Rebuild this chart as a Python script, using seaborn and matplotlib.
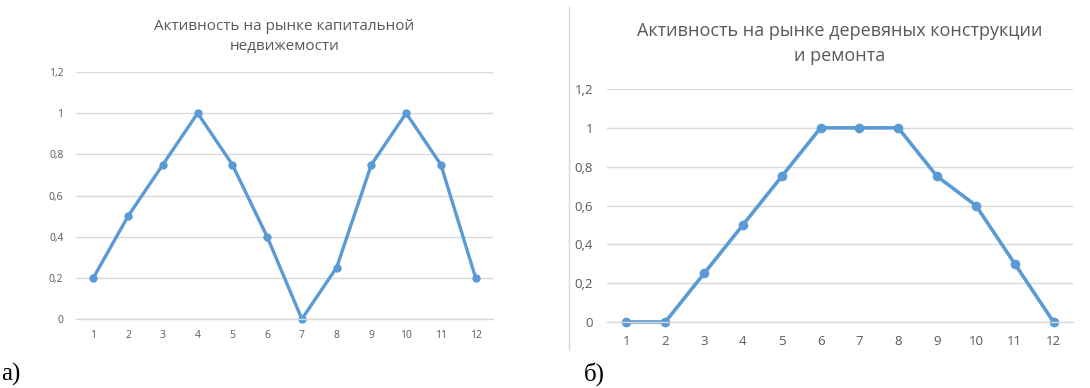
import matplotlib
matplotlib.use("Agg")
import matplotlib.pyplot as plt
import seaborn as sns
import pandas as pd

# Data
months = [1, 2, 3, 4, 5, 6, 7, 8, 9, 10, 11, 12]
capital_activity = [0.2, 0.5, 0.75, 1.0, 0.75, 0.4, 0.0, 0.25, 0.75, 1.0, 0.75, 0.2]
wood_activity = [0.0, 0.0, 0.25, 0.5, 0.75, 1.0, 1.0, 1.0, 0.75, 0.6, 0.3, 0.0]
yticks = [0, 0.2, 0.4, 0.6, 0.8, 1.0, 1.2]
ytick_labels = ["0", "0,2", "0,4", "0,6", "0,8", "1", "1,2"]
title_a = "Активность на рынке капитальной\nнедвижемости"
title_b = "Активность на рынке деревяных конструкции\nи ремонта"
label_a = "а)"
label_b = "б)"

sns.set_theme(style="white")
plt.rcParams['font.family'] = ['Open Sans', 'DejaVu Sans']

LINE = "#5B9BD5"
GRID = "#D9D9D9"
TXT = "#595959"

fig = plt.figure(figsize=(10.9, 3.88), dpi=100)
ax1 = fig.add_axes([0.0697, 0.1778, 0.3826, 0.6366])
ax2 = fig.add_axes([0.5569, 0.1701, 0.4275, 0.6005])

def style(ax, df, ycol, title, tsize, lsize, xpad, ypad, ms, lw, tpad, ls):
    sns.lineplot(data=df, x="month", y=ycol, ax=ax, color=LINE, linewidth=lw,
                 marker="o", markersize=ms, markeredgewidth=0, clip_on=False)
    ax.set_xlim(0.5, 12.5)
    ax.set_ylim(0, 1.2)
    ax.set_xticks(months)
    ax.set_xticklabels([str(m) for m in months])
    ax.set_yticks(yticks)
    ax.set_yticklabels(ytick_labels)
    ax.tick_params(axis="both", length=0, labelcolor=TXT, labelsize=lsize)
    ax.tick_params(axis="x", pad=xpad)
    ax.tick_params(axis="y", pad=ypad)
    ax.grid(axis="y", color=GRID, linewidth=1.0)
    ax.grid(axis="x", visible=False)
    for s in ["top", "right", "left"]:
        ax.spines[s].set_visible(False)
    ax.spines["bottom"].set_color(GRID)
    ax.spines["bottom"].set_linewidth(1.0)
    ax.set_xlabel("")
    ax.set_ylabel("")
    ax.set_axisbelow(True)
    ax.set_title(title, color=TXT, fontsize=tsize, pad=tpad, linespacing=ls)

df_a = pd.DataFrame({"month": months, "value": capital_activity})
df_b = pd.DataFrame({"month": months, "value": wood_activity})

style(ax1, df_a, "value", title_a, 11, 7.5, 8, 9, 6, 2.4, 16, 1.45)
style(ax2, df_b, "value", title_b, 13, 9.5, 9, 10, 7, 2.6, 20, 1.55)

fig.text(0.001, 0.02, label_a, fontsize=18, family=["Liberation Serif", "DejaVu Serif"], color="black")
fig.text(0.536, 0.02, label_b, fontsize=18, family=["Liberation Serif", "DejaVu Serif"], color="black")

# separator line
fig.add_artist(plt.Line2D([569/1090, 569/1090], [1 - 7/388, 1 - 350/388],
                          transform=fig.transFigure, color="#D9D9D9", linewidth=1.0))

fig.savefig("out.png", dpi=100)
